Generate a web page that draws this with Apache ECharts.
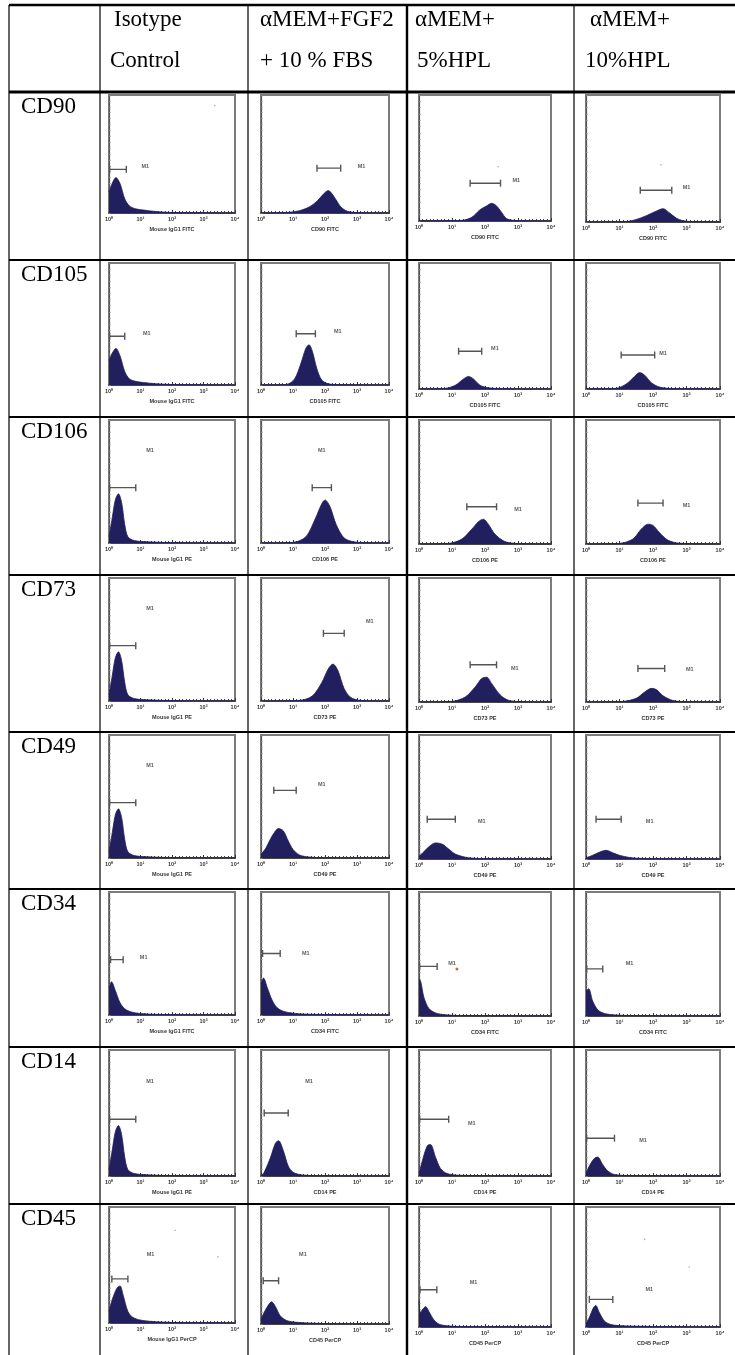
<!DOCTYPE html>
<html>
<head>
<meta charset="utf-8">
<script src="https://cdn.jsdelivr.net/npm/echarts@6/dist/echarts.min.js"></script>
<style>
html,body{margin:0;padding:0;background:#fff;}
#chart{width:735px;height:1355px;}
</style>
</head>
<body>
<div id="chart"></div>
<script>
// ---------- DATA ----------
const headerLines = [
  ["Isotype", "Control"],
  ["αMEM+FGF2", "+ 10 % FBS"],
  ["αMEM+", "5%HPL"],
  ["αMEM+", "10%HPL"]
];
const markers = ["CD90", "CD105", "CD106", "CD73", "CD49", "CD34", "CD14", "CD45"];
const tickLabels = ["10⁰", "10¹", "10²", "10³", "10⁴"];
const axisTitles = [
  ["Mouse IgG1 FITC", "CD90 FITC", "CD90 FITC", "CD90 FITC"],
  ["Mouse IgG1 FITC", "CD105 FITC", "CD105 FITC", "CD105 FITC"],
  ["Mouse IgG1 PE", "CD106 PE", "CD106 PE", "CD106 PE"],
  ["Mouse IgG1 PE", "CD73 PE", "CD73 PE", "CD73 PE"],
  ["Mouse IgG1 PE", "CD49 PE", "CD49 PE", "CD49 PE"],
  ["Mouse IgG1 FITC", "CD34 FITC", "CD34 FITC", "CD34 FITC"],
  ["Mouse IgG1 PE", "CD14 PE", "CD14 PE", "CD14 PE"],
  ["Mouse IgG1 PerCP", "CD45 PerCP", "CD45 PerCP", "CD45 PerCP"]
];

// histograms: [log10 fluorescence, relative count]
const cd90Hist = [
  [[0,0.18],[0.1,0.25],[0.22,0.3],[0.35,0.25],[0.5,0.12],[0.65,0.06],[0.85,0.035],[1.1,0.025],[1.4,0.015],[1.8,0.006],[2.5,0.002],[4,0]],
  [[0,0],[0.8,0.004],[1.2,0.02],[1.5,0.05],[1.75,0.1],[1.95,0.16],[2.1,0.19],[2.2,0.17],[2.35,0.11],[2.5,0.05],[2.7,0.015],[3,0.003],[4,0]],
  [[0,0],[1.3,0.005],[1.6,0.03],[1.85,0.09],[2.05,0.12],[2.2,0.14],[2.35,0.12],[2.5,0.07],[2.65,0.02],[2.9,0.004],[4,0]],
  [[0,0],[1.2,0.004],[1.5,0.02],[1.8,0.05],[2.05,0.08],[2.3,0.105],[2.5,0.07],[2.7,0.03],[2.9,0.01],[3.2,0.003],[4,0]]
];
const cd105Hist = [
  [[0,0.2],[0.1,0.26],[0.22,0.3],[0.35,0.24],[0.5,0.11],[0.65,0.05],[0.85,0.03],[1.1,0.02],[1.5,0.01],[2,0.004],[4,0]],
  [[0,0],[0.8,0.005],[1.05,0.05],[1.25,0.18],[1.4,0.3],[1.5,0.33],[1.6,0.28],[1.75,0.13],[1.9,0.04],[2.1,0.01],[2.5,0.002],[4,0]],
  [[0,0],[0.8,0.005],[1.1,0.03],[1.35,0.08],[1.5,0.1],[1.65,0.08],[1.85,0.03],[2.1,0.01],[2.5,0.002],[4,0]],
  [[0,0],[0.9,0.005],[1.2,0.04],[1.45,0.1],[1.6,0.13],[1.75,0.11],[1.95,0.05],[2.2,0.015],[2.6,0.003],[4,0]]
];
const cd106Hist = [
  [[0,0.05],[0.1,0.2],[0.2,0.35],[0.3,0.4],[0.4,0.33],[0.5,0.15],[0.6,0.05],[0.8,0.02],[1.2,0.01],[2,0.003],[4,0]],
  [[0,0],[1.0,0.005],[1.4,0.05],[1.7,0.2],[1.9,0.32],[2.0,0.35],[2.15,0.3],[2.35,0.15],[2.6,0.04],[2.9,0.01],[3.3,0.002],[4,0]],
  [[0,0],[0.9,0.005],[1.3,0.04],[1.6,0.12],[1.8,0.18],[1.95,0.2],[2.1,0.16],[2.3,0.08],[2.6,0.02],[3,0.004],[4,0]],
  [[0,0],[1.0,0.005],[1.4,0.04],[1.65,0.12],[1.85,0.16],[2.0,0.15],[2.2,0.09],[2.45,0.03],[2.8,0.006],[4,0]]
];
const cd73Hist = [
  [[0,0.05],[0.1,0.2],[0.2,0.35],[0.3,0.4],[0.4,0.33],[0.5,0.15],[0.6,0.05],[0.8,0.02],[1.2,0.01],[2,0.003],[4,0]],
  [[0,0],[1.2,0.005],[1.6,0.04],[1.9,0.15],[2.1,0.26],[2.25,0.3],[2.4,0.25],[2.6,0.1],[2.8,0.03],[3.1,0.005],[4,0]],
  [[0,0],[1.0,0.005],[1.4,0.04],[1.7,0.12],[1.9,0.19],[2.05,0.2],[2.2,0.15],[2.45,0.06],[2.7,0.015],[3.1,0.003],[4,0]],
  [[0,0],[1.1,0.005],[1.5,0.03],[1.75,0.08],[1.95,0.11],[2.1,0.1],[2.3,0.05],[2.6,0.012],[3,0.002],[4,0]]
];
const cd49Hist = [
  [[0,0.05],[0.1,0.2],[0.2,0.35],[0.3,0.4],[0.4,0.33],[0.5,0.15],[0.6,0.05],[0.8,0.02],[1.2,0.01],[2,0.003],[4,0]],
  [[0,0.03],[0.15,0.08],[0.35,0.18],[0.55,0.24],[0.7,0.22],[0.85,0.14],[1.0,0.07],[1.2,0.025],[1.5,0.008],[2,0.002],[4,0]],
  [[0,0.02],[0.15,0.06],[0.35,0.11],[0.5,0.13],[0.7,0.12],[0.9,0.08],[1.1,0.04],[1.4,0.015],[1.8,0.004],[4,0]],
  [[0,0.01],[0.2,0.03],[0.45,0.06],[0.6,0.07],[0.8,0.05],[1.0,0.03],[1.3,0.012],[1.7,0.004],[4,0]]
];
const cd34Hist = [
  [[0,0.22],[0.08,0.27],[0.2,0.2],[0.35,0.1],[0.5,0.05],[0.7,0.025],[1.0,0.012],[1.5,0.005],[4,0]],
  [[0,0.25],[0.08,0.3],[0.2,0.22],[0.35,0.12],[0.5,0.06],[0.7,0.03],[1.0,0.015],[1.5,0.006],[4,0]],
  [[0,0.3],[0.05,0.28],[0.15,0.15],[0.3,0.06],[0.5,0.025],[0.8,0.01],[1.2,0.004],[4,0]],
  [[0,0.2],[0.08,0.22],[0.2,0.12],[0.35,0.05],[0.55,0.02],[0.9,0.008],[1.5,0.003],[4,0]]
];
const cd14Hist = [
  [[0,0.05],[0.1,0.2],[0.2,0.35],[0.3,0.4],[0.4,0.33],[0.5,0.15],[0.6,0.05],[0.8,0.02],[1.2,0.01],[2,0.003],[4,0]],
  [[0,0],[0.1,0.03],[0.3,0.15],[0.45,0.26],[0.55,0.28],[0.7,0.2],[0.85,0.08],[1.0,0.03],[1.3,0.008],[2,0.002],[4,0]],
  [[0,0.02],[0.1,0.12],[0.25,0.24],[0.35,0.25],[0.5,0.15],[0.65,0.06],[0.85,0.02],[1.2,0.006],[4,0]],
  [[0,0.02],[0.1,0.08],[0.25,0.14],[0.35,0.15],[0.5,0.09],[0.65,0.04],[0.85,0.012],[1.3,0.004],[4,0]]
];
const cd45Hist = [
  [[0,0.1],[0.1,0.2],[0.25,0.3],[0.35,0.32],[0.45,0.24],[0.6,0.1],[0.75,0.05],[1.0,0.025],[1.3,0.015],[1.7,0.008],[2.2,0.004],[4,0]],
  [[0,0.04],[0.1,0.1],[0.25,0.17],[0.33,0.19],[0.45,0.15],[0.6,0.07],[0.8,0.03],[1.1,0.015],[1.6,0.007],[2.2,0.003],[4,0]],
  [[0,0.22],[0.04,0.12],[0.12,0.15],[0.2,0.17],[0.3,0.13],[0.45,0.06],[0.6,0.025],[0.85,0.01],[1.3,0.004],[4,0]],
  [[0,0.03],[0.1,0.08],[0.22,0.16],[0.29,0.18],[0.4,0.12],[0.55,0.05],[0.75,0.02],[1.1,0.01],[1.6,0.006],[2.5,0.003],[4,0]]
];
const histograms = [cd90Hist, cd105Hist, cd106Hist, cd73Hist, cd49Hist, cd34Hist, cd14Hist, cd45Hist];

// M1 gates: [start, end, height] and M1 label positions [x, y]
const m1Gates = [
  [[0.02,0.55,0.37],[1.75,2.49,0.38],[1.55,2.47,0.3],[1.62,2.56,0.25]],
  [[0.02,0.5,0.4],[1.1,1.7,0.42],[1.2,1.9,0.3],[1.05,2.05,0.27]],
  [[0.02,0.85,0.45],[1.6,2.2,0.45],[1.45,2.35,0.3],[1.55,2.3,0.33]],
  [[0.02,0.85,0.45],[1.95,2.6,0.55],[1.55,2.35,0.3],[1.55,2.35,0.27]],
  [[0.02,0.85,0.45],[0.4,1.1,0.55],[0.25,1.1,0.32],[0.3,1.05,0.32]],
  [[0.05,0.45,0.45],[0.05,0.6,0.5],[0.02,0.55,0.4],[0.02,0.5,0.38]],
  [[0.02,0.85,0.45],[0.1,0.85,0.5],[0.02,0.9,0.45],[0.02,0.85,0.3]],
  [[0.09,0.6,0.38],[0.07,0.55,0.37],[0.03,0.54,0.31],[0.1,0.8,0.23]]
];
const m1Labels = [
  [[1.15,0.39],[3.14,0.39],[2.95,0.32],[3.0,0.27]],
  [[1.2,0.42],[2.4,0.44],[2.3,0.32],[2.3,0.28]],
  [[1.3,0.75],[1.9,0.75],[3.0,0.28],[3.0,0.31]],
  [[1.3,0.75],[3.4,0.65],[2.9,0.27],[3.1,0.26]],
  [[1.3,0.75],[1.9,0.6],[1.9,0.3],[1.9,0.3]],
  [[1.1,0.47],[1.4,0.5],[1.0,0.42],[1.3,0.42]],
  [[1.3,0.75],[1.5,0.75],[1.6,0.42],[1.7,0.28]],
  [[1.32,0.59],[1.31,0.59],[1.65,0.37],[1.89,0.31]]
];
// stray single events seen in some panels: [row, col, x, y]
const strayEvents = [
  [0, 0, 3.36, 0.91], [0, 2, 2.4, 0.43], [0, 3, 2.24, 0.45],
  [7, 0, 2.1, 0.8], [7, 0, 3.46, 0.57], [7, 3, 1.75, 0.73], [7, 3, 3.08, 0.5]
];
// stray red event in CD34 / 5%HPL panel
const redEvent = [[1.15, 0.38]];

// ---------- LAYOUT ----------
const W = 735, H = 1355;
const colLines = [100, 248, 407, 574];
const leftBorder = 9;
const topLine = 5;
const rowTops = [92, 260, 417, 575, 732, 889, 1047, 1204];
const frameLeft = [109, 261, 419, 586];
const frameWidth = [126, 128, 132, 134];
const frameHeights = [
  [118, 118, 126, 127],
  [122, 122, 126, 126],
  [123, 123, 124, 124],
  [123, 123, 124, 124],
  [123, 123, 124, 124],
  [123, 123, 124, 124],
  [126, 126, 126, 126],
  [116, 117, 120, 120]
];
const frameTopOff = 3;
const navy = '#221f5e';

const chart = echarts.init(document.getElementById('chart'), null, {renderer: 'canvas'});
const grids = [], xAxes = [], yAxes = [], series = [];

for (let r = 0; r < 8; r++) {
  const rowTop = rowTops[r];
  for (let c = 0; c < 4; c++) {
    const idx = r * 4 + c;
    grids.push({
      left: frameLeft[c], top: rowTop + frameTopOff, width: frameWidth[c], height: frameHeights[r][c],
      show: true, borderColor: '#7c7c7c', borderWidth: 2, backgroundColor: '#fff'
    });
    xAxes.push({
      type: 'value', gridIndex: idx, min: 0, max: 4, interval: 1,
      name: axisTitles[r][c], nameLocation: 'middle', nameGap: 13,
      nameTextStyle: {fontSize: 5.5, color: '#333', fontWeight: 'bold', fontFamily: 'Liberation Sans'},
      axisLine: {show: true, onZero: false, lineStyle: {color: '#333', width: 1.5}},
      axisTick: {show: true, inside: true, length: 3, lineStyle: {color: '#333'}},
      minorTick: {show: true, splitNumber: 9, length: 2, lineStyle: {color: '#444'}},
      axisLabel: {show: true, fontSize: 5.5, margin: 3, color: '#333', fontWeight: 'bold',
        formatter: v => tickLabels[Math.round(v)] },
      splitLine: {show: false}
    });
    yAxes.push({
      type: 'value', gridIndex: idx, min: 0, max: 1, interval: 0.05,
      axisLine: {show: true, lineStyle: {color: '#555', width: 1.2}},
      axisTick: {show: true, inside: true, length: 1.5, lineStyle: {color: '#888'}},
      axisLabel: {show: false}, splitLine: {show: false}
    });
    series.push({
      type: 'line', xAxisIndex: idx, yAxisIndex: idx, data: histograms[r][c],
      symbol: 'none', smooth: 0.3, lineStyle: {color: navy, width: 0.8},
      areaStyle: {color: navy, opacity: 1}, silent: true, z: 3
    });
    const g = m1Gates[r][c];
    series.push({
      type: 'line', xAxisIndex: idx, yAxisIndex: idx,
      data: [[g[0], g[2]], [g[1], g[2]]],
      symbol: 'rect', symbolSize: [1.4, 7], showSymbol: true,
      itemStyle: {color: '#555'}, lineStyle: {color: '#555', width: 1.4}, silent: true, z: 4
    });
    series.push({
      type: 'scatter', xAxisIndex: idx, yAxisIndex: idx,
      data: [m1Labels[r][c]], symbolSize: 0, silent: true, z: 5,
      label: {show: true, position: 'inside', formatter: 'M1', fontSize: 5.5, fontWeight: 'bold', color: '#333', fontFamily: 'Liberation Sans'}
    });
    const dots = strayEvents.filter(e => e[0] === r && e[1] === c).map(e => [e[2], e[3]]);
    if (dots.length) {
      series.push({type: 'scatter', xAxisIndex: idx, yAxisIndex: idx, data: dots, symbolSize: 1.6,
        itemStyle: {color: '#999'}, silent: true, z: 5});
    }
  }
}
series.push({type: 'scatter', xAxisIndex: 22, yAxisIndex: 22, data: redEvent, symbolSize: 3,
  itemStyle: {color: '#c0392b'}, silent: true, z: 6});

// table lines and text
const graphics = [];
function hline(y, x1, x2, w) {
  graphics.push({type: 'line', shape: {x1: x1, y1: y, x2: x2, y2: y}, style: {stroke: '#000', lineWidth: w}, z: 10});
}
function vline(x, y1, y2, w) {
  graphics.push({type: 'line', shape: {x1: x, y1: y1, x2: x, y2: y2}, style: {stroke: '#000', lineWidth: w}, z: 10});
}
hline(topLine, leftBorder, W, 2.5);
for (let r = 0; r < 8; r++) hline(rowTops[r], leftBorder, W, r === 0 ? 3 : 2.2);
vline(leftBorder, topLine, H, 1.2);
vline(colLines[0], topLine, H, 1.2);
vline(colLines[1], topLine, H, 1.2);
vline(colLines[2], topLine, H, 2.4);
vline(colLines[3], topLine, H, 1.2);

const headerX = [[114, 110], [260, 260], [415, 417], [590, 585]];
for (let c = 0; c < 4; c++) {
  graphics.push({type: 'text', left: headerX[c][0], top: 8,
    style: {text: headerLines[c][0], font: '23px "Liberation Serif"', fill: '#000'}, z: 11});
  graphics.push({type: 'text', left: headerX[c][1], top: 49,
    style: {text: headerLines[c][1], font: '23px "Liberation Serif"', fill: '#000'}, z: 11});
}
for (let r = 0; r < 8; r++) {
  graphics.push({type: 'text', left: 21, top: rowTops[r] + 3,
    style: {text: markers[r], font: '23px "Liberation Serif"', fill: '#000'}, z: 11});
}

chart.setOption({
  animation: false,
  backgroundColor: '#fff',
  grid: grids, xAxis: xAxes, yAxis: yAxes, series: series, graphic: graphics
});
</script>
</body>
</html>
